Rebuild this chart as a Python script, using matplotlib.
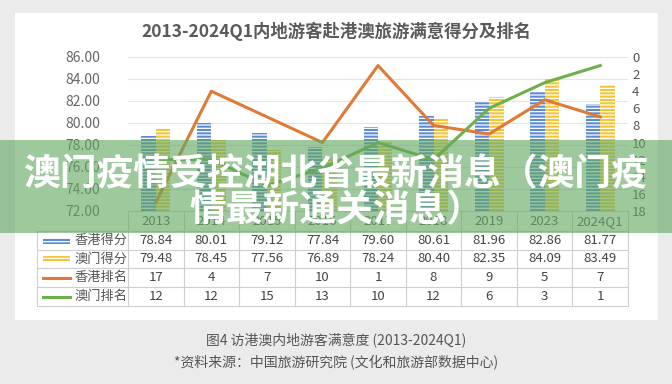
import numpy as np
import matplotlib.pyplot as plt
from matplotlib.patches import Rectangle
from matplotlib.lines import Line2D
from matplotlib.transforms import blended_transform_factory

plt.rcParams['font.family'] = ['Noto Sans CJK SC', 'DejaVu Sans']
plt.rcParams['hatch.linewidth'] = 0.9

years = ['2013', '2014', '2015', '2016', '2017', '2018', '2019', '2023', '2024Q1']
hk_score = [78.84, 80.01, 79.12, 77.84, 79.60, 80.61, 81.96, 82.86, 81.77]
mo_score = [79.48, 78.45, 77.56, 76.89, 78.24, 80.40, 82.35, 84.09, 83.49]
hk_rank = [17, 4, 7, 10, 1, 8, 9, 5, 7]
mo_rank = [12, 12, 15, 13, 10, 12, 6, 3, 1]
row_names = ['香港得分', '澳门得分', '香港排名', '澳门排名']

title = '2013-2024Q1内地游客赴港澳旅游满意得分及排名'
banner = ['澳门疫情受控湖北省最新消息（澳门疫', '情最新通关消息）']
caption = ['图4 访港澳内地游客满意度 (2013-2024Q1)', '*资料来源：中国旅游研究院 (文化和旅游部数据中心)']

blue, yellow, orange, green = '#5b8bd3', '#f5c437', '#e07a35', '#6db04a'
W, H = 672, 384


def fx(px):
    return px / W


def fy(py):
    return 1 - py / H


fig = plt.figure(figsize=(6.72, 3.84), dpi=100)
fig.patch.set_facecolor('#ebebeb')
fig.add_artist(Rectangle((fx(15), fy(320)), fx(658) - fx(15), fy(13) - fy(320),
                         transform=fig.transFigure, facecolor='white', edgecolor='none', zorder=0))

fig.text(0.5, fy(31), title, ha='center', va='center', fontsize=12.5,
         fontweight='bold', color='#5a5a5a')

ax = fig.add_axes([fx(128), fy(211), fx(628) - fx(128), fy(57) - fy(211)])
ax.set_facecolor('none')
x = np.arange(len(years))
w = 0.26
ax.bar(x - w / 2, np.array(hk_score) - 72, w, bottom=72, color=blue,
       edgecolor='white', hatch='-----', linewidth=0)
ax.bar(x + w / 2, np.array(mo_score) - 72, w, bottom=72, color=yellow,
       edgecolor='white', hatch='-----', linewidth=0)
ax.set_ylim(72, 86)
ax.set_xlim(-0.5, len(years) - 0.5)
ax.set_yticks(np.arange(72, 87, 2))
ax.set_yticklabels(['%.2f' % v for v in np.arange(72, 87, 2)])
ax.set_xticks(x)
ax.set_xticklabels(years)
ax.tick_params(axis='y', length=0, pad=20, labelsize=10, labelcolor='#666666')
ax.tick_params(axis='x', length=0, pad=3, labelsize=9.5, labelcolor='#555555')
ax.yaxis.grid(True, color='#e4e4e4', lw=0.8)
ax.set_axisbelow(True)
for s in ['top', 'left', 'right']:
    ax.spines[s].set_visible(False)
ax.spines['bottom'].set_color('#d0d0d0')

ax2 = ax.twinx()
ax2.plot(x, hk_rank, color=orange, lw=2.2)
ax2.plot(x, mo_rank, color=green, lw=2.2)
ax2.set_ylim(18, 0)
ax2.set_yticks(np.arange(0, 19, 2))
ax2.tick_params(axis='y', length=0, pad=3, labelsize=9.5, labelcolor='#555555')
for s in ax2.spines.values():
    s.set_visible(False)

# data table under the chart
blend = blended_transform_factory(ax.transData, fig.transFigure)
row_lines = [231, 250, 268, 287, 306]
line_kw = dict(color='#cfcfcf', lw=0.8)
for py in row_lines:
    fig.add_artist(Line2D([fx(37), fx(628)], [fy(py), fy(py)], transform=fig.transFigure, **line_kw))
fig.add_artist(Line2D([fx(37), fx(37)], [fy(231), fy(306)], transform=fig.transFigure, **line_kw))
for i in range(len(years) + 1):
    fig.add_artist(Line2D([i - 0.5, i - 0.5], [fy(211), fy(306)], transform=blend, **line_kw))

rows = [['%.2f' % v for v in hk_score], ['%.2f' % v for v in mo_score],
        ['%d' % v for v in hk_rank], ['%d' % v for v in mo_rank]]
for r, (name, vals) in enumerate(zip(row_names, rows)):
    yc = (row_lines[r] + row_lines[r + 1]) / 2
    fig.text(fx(101), fy(yc), name, ha='center', va='center', fontsize=9.5, color='#555555')
    for i, v in enumerate(vals):
        fig.text(i, fy(yc), v, transform=blend, ha='center', va='center',
                 fontsize=9.5, color='#444444')
    if r < 2:
        fig.add_artist(Rectangle((fx(43), fy(yc + 3)), fx(70) - fx(43), fy(yc - 3) - fy(yc + 3),
                                 transform=fig.transFigure, facecolor=[blue, yellow][r],
                                 edgecolor='white', hatch='-----', linewidth=0))
    else:
        fig.add_artist(Line2D([fx(43), fx(70)], [fy(yc), fy(yc)], transform=fig.transFigure,
                              color=[orange, green][r - 2], lw=2.2))

# green banner with headline
fig.add_artist(Rectangle((0, fy(233)), 1, fy(140) - fy(233), transform=fig.transFigure,
                         facecolor='#62a862', alpha=0.62, edgecolor='none', zorder=10))
fig.text(0.5, fy(175), banner[0], ha='center', va='center', fontsize=26.5,
         fontweight='bold', color='white', zorder=11)
fig.text(0.5, fy(211), banner[1], ha='center', va='center', fontsize=26.5,
         fontweight='bold', color='white', zorder=11)

fig.text(0.5, fy(340), caption[0], ha='center', va='center', fontsize=10, color='#555555')
fig.text(0.5, fy(363), caption[1], ha='center', va='center', fontsize=10, color='#555555')

fig.savefig('out.png', dpi=100, facecolor=fig.get_facecolor())
